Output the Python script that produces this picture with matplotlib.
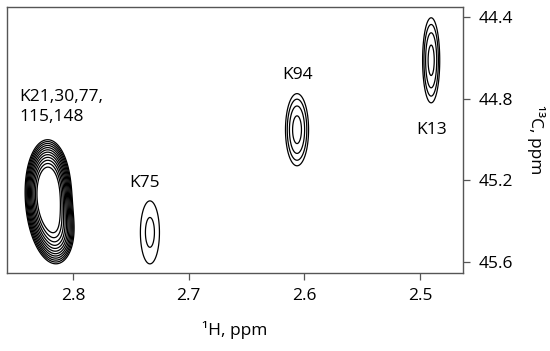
import numpy as np
import matplotlib
matplotlib.use("Agg")
import matplotlib.pyplot as plt

plt.rcParams['font.family'] = ['Open Sans', 'DejaVu Sans']

# Peak components (1H ppm, 13C ppm, height, 1H width, 13C width)
peak_h = [2.8220, 2.8205, 2.8130, 2.7335, 2.6064, 2.4905]
peak_c = [45.22, 45.33, 45.46, 45.455, 44.952, 44.612]
peak_amp = [8.0, 8.0, 3.5, 1.265, 1.90, 1.873]
peak_wh = [0.0087, 0.0087, 0.0080, 0.0120, 0.0088, 0.0066]
peak_wc = [0.105, 0.110, 0.085, 0.225, 0.156, 0.186]

# Assignment labels
label_text = ["K21,30,77,\n115,148", "K75", "K94", "K13"]
label_h = [2.846, 2.738, 2.606, 2.490]
label_c = [44.84, 45.214, 44.684, 44.954]
label_ha = ["left", "center", "center", "center"]

x_ticks = [2.8, 2.7, 2.6, 2.5]
y_ticks = [44.4, 44.8, 45.2, 45.6]
x_range = (2.857, 2.463)
y_range = (45.654, 44.351)

level_base = 1.0
level_ratio = 1.2
n_levels = 12

fig = plt.figure(figsize=(5.5, 3.51), dpi=100)
ax = fig.add_axes([0.0127, 0.2222, 0.8291, 0.7578])

hx = np.linspace(2.87, 2.45, 700)
cy = np.linspace(44.3, 45.7, 700)
H, C = np.meshgrid(hx, cy)
Z = np.zeros_like(H)
for h0, c0, a, wh, wc in zip(peak_h, peak_c, peak_amp, peak_wh, peak_wc):
    Z += a * np.exp(-0.5 * (((H - h0) / wh) ** 2 + ((C - c0) / wc) ** 2))

levels = level_base * level_ratio ** np.arange(n_levels)
ax.contour(H, C, Z, levels=levels, colors='black', linewidths=0.9)

for t, x, y, ha in zip(label_text, label_h, label_c, label_ha):
    ax.text(x, y, t, ha=ha, va='center', fontsize=12.5, linespacing=1.3)

ax.set_xlim(*x_range)
ax.set_ylim(*y_range)
ax.set_xticks(x_ticks)
ax.set_yticks(y_ticks)
ax.set_xticklabels([f"{v:.1f}" for v in x_ticks])
ax.set_yticklabels([f"{v:.1f}" for v in y_ticks])
ax.yaxis.tick_right()
ax.yaxis.set_label_position('right')
ax.tick_params(axis='both', direction='out', length=5, width=0.9, color='#555555',
               labelsize=12.5, pad=6)
for s in ax.spines.values():
    s.set_color('#555555')
    s.set_linewidth(1.0)
ax.set_xlabel("¹H, ppm", fontsize=12.5, labelpad=12)
ax.set_ylabel("¹³C, ppm", fontsize=12.5, rotation=270, labelpad=10, va='bottom')

fig.savefig("out.png", dpi=100)
